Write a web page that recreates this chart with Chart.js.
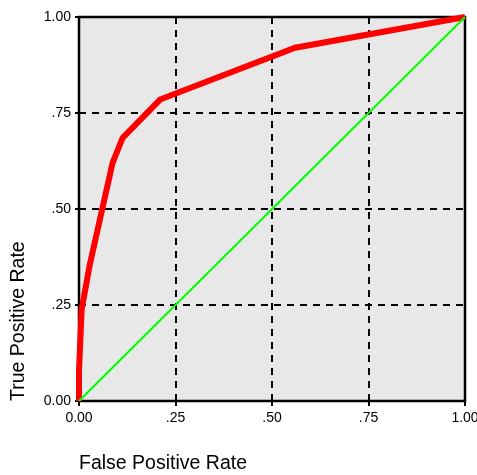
<!DOCTYPE html>
<html>
<head>
<meta charset="utf-8">
<script src="https://cdn.jsdelivr.net/npm/chart.js@4"></script>
<style>
html,body{margin:0;padding:0;background:#fff;}
#wrap{width:477px;height:475px;}
</style>
</head>
<body>
<div id="wrap"><canvas id="c" width="477" height="475"></canvas></div>
<script>
const rocFPR = [0, 0, 0.007, 0.028, 0.087, 0.113, 0.21, 0.56, 1];
const rocTPR = [0, 0.08, 0.24, 0.355, 0.62, 0.685, 0.785, 0.92, 1];
const refFPR = [0, 1];
const refTPR = [0, 1];
const tickValues = [0, 0.25, 0.5, 0.75, 1];
const tickLabels = ['0.00', '.25', '.50', '.75', '1.00'];
const xTitle = 'False Positive Rate';
const yTitle = 'True Positive Rate';

const bgPlugin = {
  id: 'bgFrame',
  beforeDraw(chart) {
    const {ctx, chartArea: a} = chart;
    ctx.save();
    ctx.fillStyle = '#e8e8e8';
    ctx.fillRect(a.left, a.top, a.right - a.left, a.bottom - a.top);
    ctx.restore();
  },
  beforeDatasetsDraw(chart) {
    const {ctx, chartArea: a} = chart;
    ctx.save();
    ctx.strokeStyle = '#000';
    ctx.lineWidth = 2.5;
    ctx.strokeRect(a.left, a.top, a.right - a.left, a.bottom - a.top);
    ctx.restore();
  }
};

function tickFmt(v) {
  const i = tickValues.findIndex(t => Math.abs(t - v) < 1e-9);
  return i >= 0 ? tickLabels[i] : '';
}
function gridColor(ctx) {
  const v = ctx.tick ? ctx.tick.value : null;
  return (v === 0 || v === 1) ? 'rgba(0,0,0,0)' : '#000';
}
const tickFont = {family: 'Liberation Sans, Arial, sans-serif', size: 14};
const titleFont = {family: 'Liberation Sans, Arial, sans-serif', size: 19.5};

new Chart(document.getElementById('c'), {
  type: 'line',
  data: {
    datasets: [
      {
        data: refFPR.map((x, i) => ({x, y: refTPR[i]})),
        borderColor: '#00ff00',
        borderWidth: 2,
        pointRadius: 0,
        tension: 0,
        clip: false
      },
      {
        data: rocFPR.map((x, i) => ({x, y: rocTPR[i]})),
        borderColor: '#ff0000',
        borderWidth: 6,
        pointRadius: 0,
        tension: 0,
        clip: false
      }
    ]
  },
  options: {
    responsive: false,
    animation: false,
    devicePixelRatio: 1,
    layout: {padding: {top: 17, right: 12, left: 0, bottom: 0}},
    plugins: {legend: {display: false}, tooltip: {enabled: false}},
    scales: {
      x: {
        type: 'linear', min: 0, max: 1,
        afterFit(s) { s.height = 74; s.paddingLeft = 0; s.paddingRight = 0; },
        ticks: {stepSize: 0.25, callback: tickFmt, color: '#000', font: tickFont, padding: 4, maxRotation: 0},
        grid: {color: gridColor, lineWidth: 2, tickColor: '#000', tickLength: 5, tickWidth: 2, tickBorderDash: []},
        border: {display: false, dash: [7, 6]},
        title: {display: true, text: xTitle, align: 'start', color: '#000', font: titleFont, padding: {top: 0, bottom: 0}}
      },
      y: {
        type: 'linear', min: 0, max: 1,
        afterFit(s) { s.width = 79; s.paddingTop = 0; s.paddingBottom = 0; },
        ticks: {stepSize: 0.25, callback: tickFmt, color: '#000', font: tickFont, padding: 4},
        grid: {color: gridColor, lineWidth: 2, tickColor: '#000', tickLength: 4, tickWidth: 2, tickBorderDash: []},
        border: {display: false, dash: [7, 6]},
        title: {display: true, text: yTitle, align: 'start', color: '#000', font: titleFont, padding: {top: 7, bottom: 0}}
      }
    }
  },
  plugins: [bgPlugin]
});
</script>
</body>
</html>
